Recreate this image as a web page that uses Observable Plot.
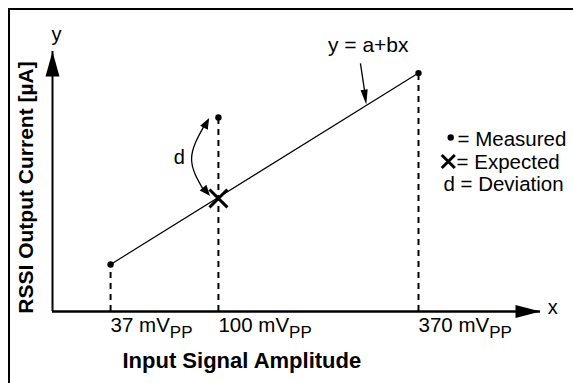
<!DOCTYPE html>
<html><head><meta charset="utf-8">
<script src="https://cdn.jsdelivr.net/npm/d3@7"></script>
<script src="https://cdn.jsdelivr.net/npm/@observablehq/plot@0.6"></script>
<style>
html,body{margin:0;padding:0;background:#fff;}
#wrap{position:relative;width:573px;height:383px;overflow:hidden;background:#fff;}
#chart{position:absolute;left:0;top:0;}
#frame{position:absolute;left:8px;top:8px;width:620px;height:420px;border-left:2px solid #000;border-top:2px solid #000;pointer-events:none;}
</style></head><body>
<div id="wrap"><div id="chart"></div><div id="frame"></div></div>
<script>
// Schematic chart: axes are unitless (0..100 along each axis)
const amplitudesMv = [37, 100, 370];          // input amplitudes (mVpp)
const amplitudePos = [11.9, 34.0, 75.0];      // position along schematic x axis
const measured = [18.1, 74.6, 91.7];          // measured RSSI current (schematic units)
const expectedAt100 = 43.5;                   // expected value on y = a+bx at 100 mVpp
const legendItems = ["= Measured", "= Expected", "d = Deviation"];
const xTitle = "Input Signal Amplitude";
const yTitle = "RSSI Output Current [µA]";
const fitLabel = "y = a+bx";

const pts = amplitudePos.map((x, i) => ({x, y: measured[i], mv: amplitudesMv[i]}));
const fitEnds = [pts[0], pts[pts.length - 1]];

function head(angle, len, hw) {
  const a = angle * Math.PI / 180, dx = Math.sin(a), dy = -Math.cos(a), px = -dy, py = dx;
  return {draw(ctx) {
    ctx.moveTo(0, 0);
    ctx.lineTo(-len * dx + hw * px, -len * dy + hw * py);
    ctx.lineTo(-len * dx - hw * px, -len * dy - hw * py);
    ctx.closePath();
  }};
}
const headDot = (x, y, angle, len, hw) =>
  Plot.dot([{x, y}], {x: "x", y: "y", r: 5, symbol: head(angle, len, hw), fill: "black", stroke: "none"});

const curvePts = [{x: 31.1, y: 71.5}, {x: 28.5, y: 58.8}, {x: 30.9, y: 46.9}];
const FONT = "'Liberation Sans', Arial, Helvetica, sans-serif";

const chart = Plot.plot({
  width: 573, height: 383,
  marginLeft: 52, marginRight: 33, marginTop: 51, marginBottom: 72,
  x: {domain: [0, 100], axis: null},
  y: {domain: [0, 100], axis: null},
  style: {fontFamily: FONT, background: "white", overflow: "visible"},
  marks: [
    Plot.ruleX(pts, {x: "x", y1: 0, y2: "y", strokeDasharray: "6,5", strokeWidth: 2, stroke: "black"}),
    Plot.ruleX([0], {y1: 0, y2: 100, strokeWidth: 2, stroke: "black"}),
    Plot.ruleY([0], {x1: 0, x2: 100, strokeWidth: 2.5, stroke: "black"}),
    headDot(0, 100, 0, 25, 7),
    headDot(100, 0, 90, 25, 6.5),
    Plot.line(fitEnds, {x: "x", y: "y", strokeWidth: 1.2, stroke: "black"}),
    Plot.dot(pts, {x: "x", y: "y", r: 3.2, fill: "black"}),
    Plot.dot([{x: amplitudePos[1], y: expectedAt100}], {x: "x", y: "y", symbol: "times", r: 8.2, stroke: "black", strokeWidth: 3}),
    // pointer for the fit label
    Plot.link([{}], {x1: 63.1, y1: 95.4, x2: 64.1, y2: 83, strokeWidth: 1.3, stroke: "black"}),
    headDot(64.3, 79.6, 171.7, 15, 3.6),
    // deviation curved double arrow
    Plot.line(curvePts, {x: "x", y: "y", curve: "natural", strokeWidth: 1.3, stroke: "black"}),
    headDot(32.1, 74.4, 28, 11, 4.3),
    headDot(32.3, 44.4, 140, 11, 4.3),
    // text
    Plot.text([fitLabel], {x: 64.7, y: 100, text: d => d, fontSize: 21, textAnchor: "middle", lineAnchor: "bottom"}),
    Plot.text(["d"], {x: 26.0, y: 56.9, text: d => d, fontSize: 20, textAnchor: "middle", lineAnchor: "bottom"}),
    Plot.text(["y"], {x: 0.8, y: 104.2, text: d => d, fontSize: 20, textAnchor: "middle", lineAnchor: "bottom"}),
    Plot.text(["x"], {x: 102.5, y: -0.8, text: d => d, fontSize: 20, textAnchor: "middle", lineAnchor: "bottom"}),
    Plot.text(pts, {x: "x", y: -7.7, text: d => `${d.mv} mV_PP`, fontSize: 20.5, textAnchor: "start", lineAnchor: "bottom"}),
    Plot.text([xTitle], {x: 38.8, y: -21.9, text: d => d, fontSize: 22, fontWeight: "bold", textAnchor: "middle", lineAnchor: "bottom"}),
    Plot.text([yTitle], {x: -5.3, y: 47.7, text: d => d, fontSize: 21, fontWeight: "bold", textAnchor: "middle", lineAnchor: "middle", rotate: -90}),
    // legend
    Plot.dot([{x: 81.6, y: 66.9}], {x: "x", y: "y", r: 3.2, fill: "black"}),
    Plot.dot([{x: 81.1, y: 57.7}], {x: "x", y: "y", symbol: "times", r: 6, stroke: "black", strokeWidth: 3}),
    Plot.text([legendItems[0]], {x: 83.0, y: 63.8, text: d => d, fontSize: 20.5, textAnchor: "start", lineAnchor: "bottom"}),
    Plot.text([legendItems[1]], {x: 82.8, y: 55.0, text: d => d, fontSize: 20.5, textAnchor: "start", lineAnchor: "bottom"}),
    Plot.text([legendItems[2]], {x: 80.1, y: 46.2, text: d => d, fontSize: 20.5, textAnchor: "start", lineAnchor: "bottom"})
  ]
});

chart.querySelectorAll("text").forEach(t => {
  if (t.textContent.includes("_PP")) {
    t.textContent = t.textContent.replace("_PP", "");
    const ts = document.createElementNS("http://www.w3.org/2000/svg", "tspan");
    ts.setAttribute("font-size", "17");
    ts.setAttribute("dy", "6");
    ts.textContent = "PP";
    t.appendChild(ts);
  }
});
document.getElementById("chart").appendChild(chart);
</script>
</body></html>
